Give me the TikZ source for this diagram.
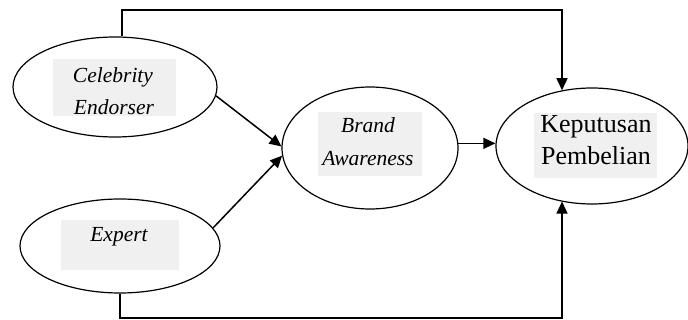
\documentclass[tikz,border=0pt]{standalone}
\usepackage{fontspec}
\setmainfont{Liberation Serif}
\usetikzlibrary{arrows.meta,shapes.geometric}
\begin{document}
\begin{tikzpicture}[x=1pt,y=-1pt,
  ell/.style={draw,ellipse,line width=1.2pt,inner sep=0pt},
  hl/.style={fill=black!6},
  itx/.style={anchor=base,inner sep=0pt,font=\fontsize{21.5}{26}\selectfont\itshape},
  upx/.style={anchor=base,inner sep=0pt,font=\fontsize{26}{30}\selectfont},
  con/.style={line width=1.5pt},
  arr/.style={con,-{Triangle[length=12pt,width=11pt]}}]
\useasboundingbox (0,0) rectangle (688,320);
% ellipses
\node[ell,minimum width=204pt,minimum height=100pt] (cel) at (115,87) {};
\node[ell,minimum width=200pt,minimum height=94pt] (exp) at (120,246) {};
\node[ell,minimum width=176pt,minimum height=122pt] (brand) at (370,148) {};
\node[ell,minimum width=192pt,minimum height=116pt] (kep) at (592,146) {};
% highlight boxes
\fill[hl] (53,59) rectangle (176,116);
\fill[hl] (61,220) rectangle (179,270);
\fill[hl] (318,112) rectangle (422,176);
\fill[hl] (534,113) rectangle (657,178);
% texts
\node[itx] (t1) at (113,83) {Celebrity};
\node[itx] (t2) at (114,115) {Endorser};
\node[itx] (t3) at (119,242) {Expert};
\node[itx] (t4) at (368,133) {Brand};
\node[itx] (t5) at (368,166) {Awareness};
\node[upx] (t6) at (596,133) {Keputusan};
\node[upx] (t7) at (596,165) {Pembelian};
% connectors
\coordinate (tc) at (562,10);
\coordinate (bc) at (562,318);
\draw[arr] (cel.-5) -- (brand.179);
\draw[arr] (exp.11) -- (brand.185);
\draw[arr] (brand.3) -- (brand.3 -| kep.west);
\draw[arr] ([xshift=7pt]cel.north) |- (tc) -- (tc |- kep.118.6);
\draw[arr] (exp.south) |- (bc) -- (bc |- kep.241.4);
\end{tikzpicture}
\end{document}
